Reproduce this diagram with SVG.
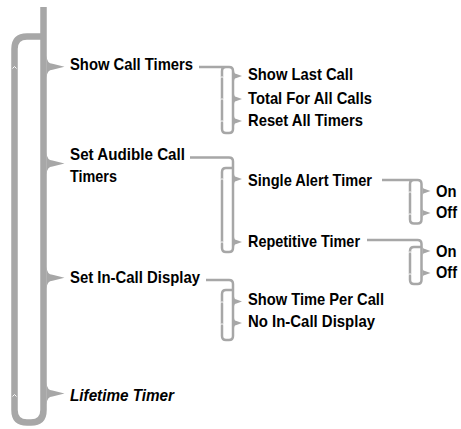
<svg xmlns="http://www.w3.org/2000/svg" xmlns:xlink="http://www.w3.org/1999/xlink" width="461" height="429" viewBox="0 0 461 429">
  <style>
    .thick { fill: none; stroke: #a7a7a7; stroke-width: 6.5; }
    .thin { fill: none; stroke: #a7a7a7; stroke-width: 2.5; }
    .pt { fill: #a7a7a7; }
    .nick { fill: none; stroke: #ffffff; stroke-width: 1; }
    text { font-family: "Liberation Sans", Arial, sans-serif; font-weight: bold; font-size: 17px; fill: #000; }
    .it { font-style: italic; }
  </style>
  <defs>
    <path id="mp" class="pt" d="M3,-11 Q3.5,-3 9,-3 L21,0 L9,3 Q3.5,3 3,11 Z"/>
    <path id="tp" class="pt" d="M1,-5 Q1.3,-2 3.5,-2 L9,0 L3.5,2 Q1.3,2 1,5 Z"/>
    <polyline id="nk" class="nick" points="-2,1.5 0,-0.5 2,1.5"/>
  </defs>

  <g id="connectors">
    <!-- main line and loop -->
    <path class="thick" d="M43.5,7 V410 Q43.5,422.5 31,422.5 H27 Q14.5,422.5 14.5,410 V49 Q14.5,36.5 27,36.5 H43.5"/>
    <use href="#mp" x="43.5" y="66.7"/>
    <use href="#mp" x="43.5" y="163.5"/>
    <use href="#mp" x="43.5" y="277.7"/>
    <use href="#mp" x="43.5" y="393.5"/>
    <use href="#nk" x="14.5" y="67"/>
    <use href="#nk" x="14.5" y="395"/>

    <!-- Show Call Timers bracket -->
    <path class="thin" d="M199,67 H229 Q233,67 233,71 V129 Q233,133 229,133 H226 Q222,133 222,129 V71 Q222,67 226,67"/>
    <use href="#tp" x="233" y="76"/>
    <use href="#tp" x="233" y="99"/>
    <use href="#tp" x="233" y="121"/>
    <use href="#nk" x="222" y="77"/>
    <use href="#nk" x="222" y="99"/>
    <use href="#nk" x="222" y="121"/>

    <!-- Set Audible Call Timers bracket -->
    <path class="thin" d="M190,157.5 H229 Q233,157.5 233,161.5 V248 Q233,252 229,252 H226 Q222,252 222,248 V172 Q222,168 226,168 H233"/>
    <use href="#tp" x="233" y="179"/>
    <use href="#tp" x="233" y="242"/>
    <use href="#nk" x="222" y="179"/>
    <use href="#nk" x="222" y="242"/>

    <!-- Single Alert Timer bracket -->
    <path class="thin" d="M382,180 H417.5 Q421.5,180 421.5,184 V219.5 Q421.5,223.5 417.5,223.5 H414 Q410,223.5 410,219.5 V184 Q410,180 414,180"/>
    <use href="#tp" x="421.5" y="191"/>
    <use href="#tp" x="421.5" y="213"/>
    <use href="#nk" x="410" y="192"/>
    <use href="#nk" x="410" y="214"/>

    <!-- Repetitive Timer bracket -->
    <path class="thin" d="M367,240 H417.5 Q421.5,240 421.5,244 V280 Q421.5,284 417.5,284 H414 Q410,284 410,280 V251 Q410,247 414,247 H421.5"/>
    <use href="#tp" x="421.5" y="251"/>
    <use href="#tp" x="421.5" y="273"/>
    <use href="#nk" x="410" y="252"/>
    <use href="#nk" x="410" y="274"/>

    <!-- Set In-Call Display bracket -->
    <path class="thin" d="M206,280 H229 Q233,280 233,284 V336 Q233,340 229,340 H226 Q222,340 222,336 V294 Q222,290 226,290 H233"/>
    <use href="#tp" x="233" y="301.5"/>
    <use href="#tp" x="233" y="323"/>
    <use href="#nk" x="222" y="302"/>
    <use href="#nk" x="222" y="324"/>
  </g>

  <g id="show-call-timers"><text x="70" y="70" textLength="123" lengthAdjust="spacingAndGlyphs">Show Call Timers</text></g>
  <g id="show-last-call"><text x="248" y="80" textLength="105" lengthAdjust="spacingAndGlyphs">Show Last Call</text></g>
  <g id="total-for-all-calls"><text x="248" y="103.5" textLength="124" lengthAdjust="spacingAndGlyphs">Total For All Calls</text></g>
  <g id="reset-all-timers"><text x="248" y="126" textLength="115" lengthAdjust="spacingAndGlyphs">Reset All Timers</text></g>

  <g id="set-audible-call-timers">
    <text x="70" y="160" textLength="115" lengthAdjust="spacingAndGlyphs">Set Audible Call</text>
    <text x="70" y="182" textLength="47" lengthAdjust="spacingAndGlyphs">Timers</text>
  </g>
  <g id="single-alert-timer"><text x="248" y="186" textLength="124" lengthAdjust="spacingAndGlyphs">Single Alert Timer</text></g>
  <g id="on-1"><text x="436" y="196.5" textLength="20.5" lengthAdjust="spacingAndGlyphs">On</text></g>
  <g id="off-1"><text x="436" y="218.3" textLength="21" lengthAdjust="spacingAndGlyphs">Off</text></g>
  <g id="repetitive-timer"><text x="248" y="246.7" textLength="112" lengthAdjust="spacingAndGlyphs">Repetitive Timer</text></g>
  <g id="on-2"><text x="436" y="256.7" textLength="20.5" lengthAdjust="spacingAndGlyphs">On</text></g>
  <g id="off-2"><text x="436" y="278.3" textLength="21" lengthAdjust="spacingAndGlyphs">Off</text></g>

  <g id="set-in-call-display"><text x="70" y="283.3" textLength="130" lengthAdjust="spacingAndGlyphs">Set In-Call Display</text></g>
  <g id="show-time-per-call"><text x="248" y="305" textLength="136" lengthAdjust="spacingAndGlyphs">Show Time Per Call</text></g>
  <g id="no-in-call-display"><text x="248" y="326.7" textLength="127" lengthAdjust="spacingAndGlyphs">No In-Call Display</text></g>

  <g id="lifetime-timer"><text class="it" x="70" y="400.7" textLength="104" lengthAdjust="spacingAndGlyphs">Lifetime Timer</text></g>
</svg>
